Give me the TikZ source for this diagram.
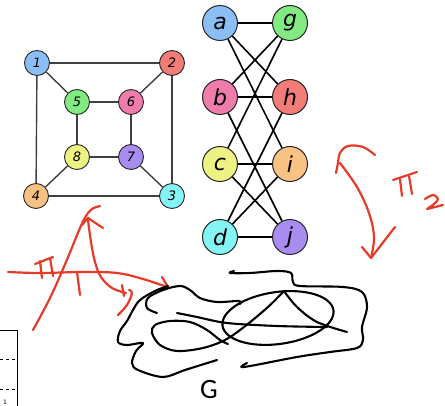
\documentclass[tikz,border=0pt]{standalone}
\usepackage{fontspec}
\setmainfont{DejaVu Sans}
\newfontfamily\handfont{Carlito}
\usetikzlibrary{arrows.meta}
\definecolor{vblue}{HTML}{8CBEF6}
\definecolor{vred}{HTML}{F27C78}
\definecolor{vgreen}{HTML}{82EA82}
\definecolor{vpink}{HTML}{F07CAC}
\definecolor{vyellow}{HTML}{EEF282}
\definecolor{vpurple}{HTML}{A88CF0}
\definecolor{vorange}{HTML}{F8C284}
\definecolor{vcyan}{HTML}{84F4F4}
\definecolor{inkred}{HTML}{E63B29}
\begin{document}
\begin{tikzpicture}[x=1pt,y=-1pt,
  smallv/.style={circle,draw=black!85,line width=0.9pt,minimum size=25pt,inner sep=0pt,
    font=\fontsize{13}{13}\selectfont\itshape},
  bigv/.style={circle,draw=black!85,line width=1pt,minimum size=35pt,inner sep=0pt,
    font=\fontsize{22}{22}\selectfont\itshape},
  cubeedge/.style={line width=1.4pt,black!75},
  bipedge/.style={line width=1.6pt,black},
  redink/.style={inkred,line width=2.2pt,line cap=round,line join=round},
  blackink/.style={black,line width=2.1pt,line cap=round,line join=round},
  gridline/.style={black,line width=0.8pt},
]
\useasboundingbox (0,0) rectangle (445,406);

% cube graph
\node[smallv,fill=vblue]   (n1) at (37,63)   {1};
\node[smallv,fill=vred]    (n2) at (172,63)  {2};
\node[smallv,fill=vorange] (n4) at (36,196)  {4};
\node[smallv,fill=vcyan]   (n3) at (172,196) {3};
\node[smallv,fill=vgreen]  (n5) at (77,102)  {5};
\node[smallv,fill=vpink]   (n6) at (131,102) {6};
\node[smallv,fill=vyellow] (n8) at (77,157)  {8};
\node[smallv,fill=vpurple] (n7) at (131,157) {7};
\foreach \u/\v in {n1/n2,n2/n3,n3/n4,n4/n1,n5/n6,n6/n7,n7/n8,n8/n5,n1/n5,n2/n6,n3/n7,n4/n8}
  \draw[cubeedge] (\u) -- (\v);

% bipartite graph
\node[bigv,fill=vblue]   (a) at (220,23)  {a};
\node[bigv,fill=vgreen]  (g) at (290,23)  {g};
\node[bigv,fill=vpink]   (b) at (220,97)  {b};
\node[bigv,fill=vred]    (h) at (290,97)  {h};
\node[bigv,fill=vyellow] (c) at (220,164) {c};
\node[bigv,fill=vorange] (i) at (290,164) {i};
\node[bigv,fill=vcyan]   (d) at (220,237) {d};
\node[bigv,fill=vpurple] (j) at (290,237) {j};
\foreach \u/\v in {a/g,a/h,a/i,b/g,b/h,b/j,c/g,c/i,c/j,d/h,d/i,d/j}
  \draw[bipedge] (\u) -- (\v);

% table corner
\draw[gridline] (0,330) -- (17,330) -- (17,406);
\draw[gridline,dashed] (0,359) -- (15,359);
\draw[gridline,dashed] (0,389) -- (15,389);
\node[font=\fontsize{6}{6}\selectfont] (one) at (5,402) {1};

% pi_1 arrow
\draw[redink] plot[smooth,tension=0.6] coordinates {(8,272) (40,273) (83,272) (117,273) (143,279) (167,287)};
\draw[redink] (162,277) -- (168,287) -- (157,290);
\draw[redink] (35,264) -- (53,257);
\draw[redink] (40,261) -- (42,278);
\draw[redink] (50,258) -- (53,276);
\draw[redink] (77,272) -- (80,295);
% inverse arrow
\draw[redink] plot[smooth,tension=0.6] coordinates {(33,330) (50,298) (66,262) (80,228) (86,216) (92,209) (100,206)};
\draw[redink] (82,225) -- (88,218) -- (103,228);
\draw[redink] plot[smooth,tension=0.6] coordinates {(88,220) (91,242) (95,262) (101,277) (112,288) (126,293)};
\draw[redink] (122,285) -- (124,296);
\draw[redink] plot[smooth,tension=0.6] coordinates {(118,315) (127,305) (132,293) (129,290)};

% pi_2 arrow
\draw[redink] plot[smooth,tension=0.6] coordinates {(375,155) (363,147) (348,146) (340,153) (338,163) (336,173)};
\draw[redink] plot[smooth,tension=0.6] coordinates {(340,163) (357,187) (369,213) (374,237) (371,258)};
\draw[redink] (362,247) -- (371,258) -- (395,227);
\draw[redink] (393,180) -- (417,172);
\draw[redink] (400,179) -- (402,196);
\draw[redink] (409,176) -- (412,194);
\draw[redink] plot[smooth,tension=0.5] coordinates {(425,199) (433,195) (438,199) (434,204) (427,209)} -- (443,205);

% scribbled graph G
\draw[blackink] plot[smooth,tension=0.55] coordinates {(168,286) (155,291) (140,300) (133,310) (127,321) (120,331) (118,342) (127,345) (143,343) (136,351) (132,363) (138,370) (163,377) (185,370) (217,360)};
\draw[blackink] plot[smooth,tension=0.55] coordinates {(157,313) (147,308) (148,298) (163,290) (180,286) (190,290) (200,298) (217,302) (239,301) (240,304)};
\draw[blackink] plot[smooth,tension=0.55] coordinates {(234,271) (230,273) (250,273) (277,271) (291,273) (293,282) (300,286) (343,287) (362,292) (367,307) (362,327) (363,340) (357,348) (330,352) (297,357) (244,367) (247,363)};
\draw[blackink,rotate around={8:(278,318)}] (278,318) ellipse [x radius=56, y radius=26];
\draw[blackink] plot[smooth,tension=0.55] coordinates {(284,291) (268,307) (244,327) (225,340) (203,348) (177,351) (160,345) (152,333) (155,325) (170,321) (190,322) (207,330) (220,340) (228,344)};
\draw[blackink] plot[smooth,tension=0.55] coordinates {(284,291) (297,307) (317,322) (347,332)};
\draw[blackink] plot[smooth,tension=0.55] coordinates {(177,313) (197,317) (227,323) (277,326) (327,327)};
\node[font=\handfont\fontsize{28}{28}\selectfont] (G) at (209,390) {G};
\end{tikzpicture}
\end{document}
